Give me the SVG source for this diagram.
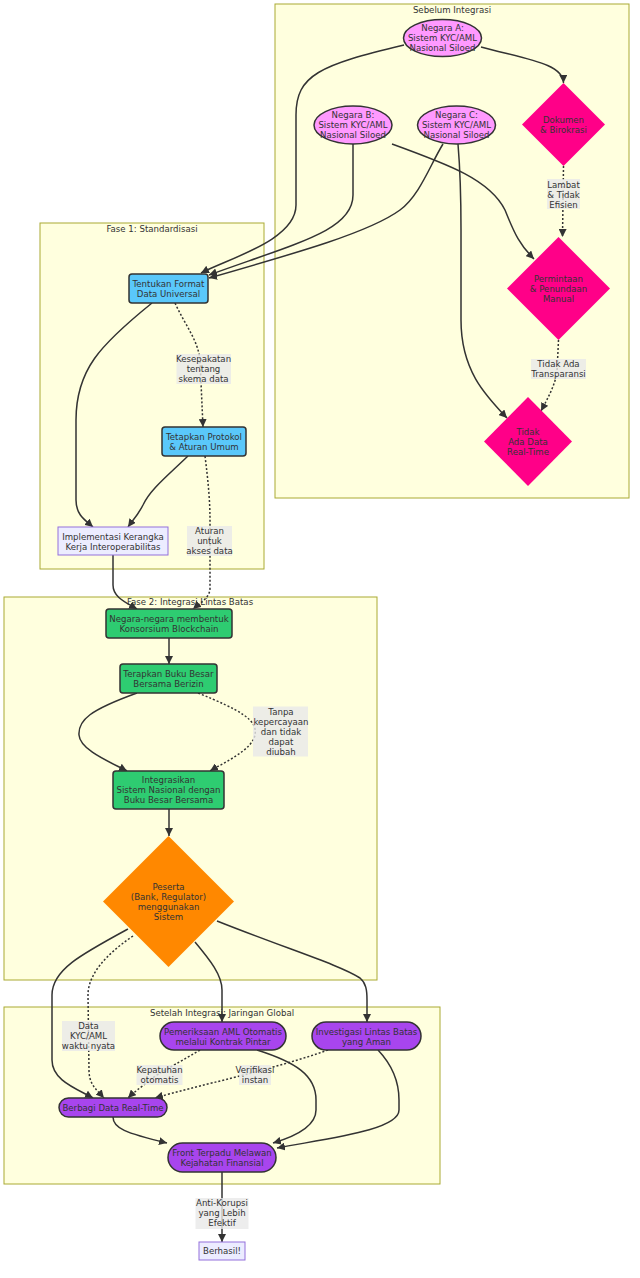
<svg xmlns="http://www.w3.org/2000/svg" width="640" height="1278" viewBox="0 0 640 1278">
<style>
text{font-family:"DejaVu Sans",Verdana,Arial,sans-serif;font-size:8.6px;fill:#333;text-anchor:middle;dominant-baseline:central}
.cl{fill:#ffffde;stroke:#aaaa33;stroke-width:1}
.e{fill:none;stroke:#333;stroke-width:1.5}
.d{fill:none;stroke:#333;stroke-width:1.5;stroke-dasharray:2 2}
.lb{fill:#e8e8e8;opacity:0.8}
.ng{fill:#ff99ff;stroke:#333;stroke-width:1.5}
.pk{fill:#ff0088}
.bl{fill:#5ac8fa;stroke:#333;stroke-width:1.5}
.gr{fill:#2ecc71;stroke:#333;stroke-width:1.5}
.or{fill:#ff8800}
.pu{fill:#a845ee;stroke:#333;stroke-width:1.5}
.df{fill:#ececff;stroke:#9370db;stroke-width:1}
</style>
<defs>
<marker id="ah" viewBox="0 0 10 10" refX="10" refY="5" markerWidth="8" markerHeight="8" markerUnits="userSpaceOnUse" orient="auto">
<path d="M0,0 L10,5 L0,10 z" fill="#333"/>
</marker>
</defs>

<g id="clusters">
<g id="c-sebelum"><rect class="cl" x="275" y="4" width="354" height="494"/><text x="452" y="9.5">Sebelum Integrasi</text></g>
<g id="c-fase1"><rect class="cl" x="40" y="223" width="224" height="346"/><text x="152" y="229">Fase 1: Standardisasi</text></g>
<g id="c-fase2"><rect class="cl" x="4" y="597" width="373" height="383"/><text x="190" y="601.5">Fase 2: Integrasi Lintas Batas</text></g>
<g id="c-setelah"><rect class="cl" x="4" y="1007" width="436" height="177"/><text x="222" y="1013">Setelah Integrasi: Jaringan Global</text></g>
</g>

<g id="edges">
<path class="e" marker-end="url(#ah)" d="M404,45 C320,65 296,75 296,115 L296,205 C296,240 230,258 201,273"/>
<path class="e" marker-end="url(#ah)" d="M481,47 C530,60 563,64 563.5,83"/>
<path class="e" marker-end="url(#ah)" d="M353,144 L353,195 C353,230 300,242 209,275"/>
<path class="e" marker-end="url(#ah)" d="M443,144 C430,165 420,195 400,210 C370,232 300,252 209,278"/>
<path class="e" marker-end="url(#ah)" d="M392,144 C450,165 490,180 505,210 C515,235 520,245 534,259"/>
<path class="e" marker-end="url(#ah)" d="M458,144 C461,180 461,200 461,230 L461,320 C461,370 485,395 507,418"/>
<path class="d" marker-end="url(#ah)" d="M563.5,166 L562.5,237"/>
<path class="d" marker-end="url(#ah)" d="M558.5,340 L557,372 C555,385 548,398 541,411"/>
<path class="d" marker-end="url(#ah)" d="M175,303 C185,325 198,340 200,360 L203,427"/>
<path class="e" marker-end="url(#ah)" d="M152,303 C100,345 76,370 76,420 L76,500 C76,515 85,520 93,527"/>
<path class="e" marker-end="url(#ah)" d="M188,456 C165,478 150,490 143,505 C138,515 133,520 128,527"/>
<path class="e" marker-end="url(#ah)" d="M113,555 L113,585 C113,597 125,602 137,609"/>
<path class="d" marker-end="url(#ah)" d="M205,456 C208,480 210,500 210,520 L210,588 C210,598 200,603 193,609"/>
<path class="e" marker-end="url(#ah)" d="M169,638 L169,664"/>
<path class="e" marker-end="url(#ah)" d="M137,693 C90,710 78,720 79,735 C80,750 110,762 127,771"/>
<path class="d" marker-end="url(#ah)" d="M198,693 C240,710 258,720 255,735 C252,750 225,762 210,771"/>
<path class="e" marker-end="url(#ah)" d="M169,809 L169,836"/>
<path class="e" marker-end="url(#ah)" d="M128,929 C80,955 52,970 52,995 L52,1060 C52,1080 75,1088 93,1098"/>
<path class="d" marker-end="url(#ah)" d="M133,936 C105,955 88,975 88,995 L89,1070 C89,1085 97,1090 104,1098"/>
<path class="e" marker-end="url(#ah)" d="M195,942 C210,960 222,975 222,990 L222,1022"/>
<path class="e" marker-end="url(#ah)" d="M217,921 C290,950 340,965 360,978 C366,983 367,990 367,1000 L367,1022"/>
<path class="d" marker-end="url(#ah)" d="M200,1050 C175,1065 160,1072 150,1080 C140,1088 133,1093 128,1098"/>
<path class="d" marker-end="url(#ah)" d="M328,1050 C300,1060 270,1068 240,1076 C200,1086 175,1092 155,1098"/>
<path class="e" marker-end="url(#ah)" d="M113,1117 C113,1128 125,1133 167,1143"/>
<path class="e" marker-end="url(#ah)" d="M257,1050 C295,1062 316,1075 316,1100 L316,1110 C316,1125 300,1135 273,1143"/>
<path class="e" marker-end="url(#ah)" d="M378,1050 C395,1068 399,1085 399,1100 L399,1110 C399,1130 330,1138 277,1148"/>
<path class="e" marker-end="url(#ah)" d="M222,1172 L222,1242"/>
</g>

<g id="edge-labels">
<g><rect class="lb" x="547" y="179" width="33" height="30"/><text x="563.5" y="184.5">Lambat</text><text x="563.5" y="194.5">&amp; Tidak</text><text x="563.5" y="204.5">Efisien</text></g>
<g><rect class="lb" x="531" y="359" width="55" height="20"/><text x="558.5" y="364">Tidak Ada</text><text x="558.5" y="374">Transparansi</text></g>
<g><rect class="lb" x="176.5" y="354" width="54.5" height="30"/><text x="203.5" y="359">Kesepakatan</text><text x="203.5" y="369">tentang</text><text x="203.5" y="379">skema data</text></g>
<g><rect class="lb" x="187" y="526" width="45" height="30"/><text x="209.5" y="531">Aturan</text><text x="209.5" y="541">untuk</text><text x="209.5" y="551">akses data</text></g>
<g><rect class="lb" x="253" y="706.5" width="55" height="50"/><text x="281" y="711.5">Tanpa</text><text x="281" y="721.5">kepercayaan</text><text x="281" y="731.5">dan tidak</text><text x="281" y="741.5">dapat</text><text x="281" y="751.5">diubah</text></g>
<g><rect class="lb" x="62" y="1021" width="53" height="30"/><text x="88.5" y="1026">Data</text><text x="88.5" y="1036">KYC/AML</text><text x="88.5" y="1046">waktu nyata</text></g>
<g><rect class="lb" x="136.5" y="1065" width="46" height="20"/><text x="159.5" y="1070">Kepatuhan</text><text x="159.5" y="1080">otomatis</text></g>
<g><rect class="lb" x="239" y="1065" width="32" height="20"/><text x="255" y="1070">Verifikasi</text><text x="255" y="1080">instan</text></g>
<g><rect class="lb" x="195.5" y="1198" width="53" height="31"/><text x="222" y="1203">Anti-Korupsi</text><text x="222" y="1213">yang Lebih</text><text x="222" y="1223">Efektif</text></g>
</g>

<g id="nodes">
<g id="negaraA"><ellipse class="ng" cx="442.5" cy="38" rx="39" ry="18.5"/><text x="442.5" y="28">Negara A:</text><text x="442.5" y="38">Sistem KYC/AML</text><text x="442.5" y="48">Nasional Siloed</text></g>
<g id="negaraB"><ellipse class="ng" cx="353" cy="125" rx="39" ry="19"/><text x="353" y="115">Negara B:</text><text x="353" y="125">Sistem KYC/AML</text><text x="353" y="135">Nasional Siloed</text></g>
<g id="negaraC"><ellipse class="ng" cx="456.5" cy="125" rx="39" ry="19"/><text x="456.5" y="115">Negara C:</text><text x="456.5" y="125">Sistem KYC/AML</text><text x="456.5" y="135">Nasional Siloed</text></g>
<g id="dokumen"><polygon class="pk" points="563.5,83 605,124.5 563.5,166 522,124.5"/><text x="563.5" y="119.5">Dokumen</text><text x="563.5" y="129.5">&amp; Birokrasi</text></g>
<g id="permintaan"><polygon class="pk" points="558.5,237 610,288.5 558.5,340 507,288.5"/><text x="558.5" y="278.5">Permintaan</text><text x="558.5" y="288.5">&amp; Penundaan</text><text x="558.5" y="298.5">Manual</text></g>
<g id="tidakData"><polygon class="pk" points="528,397 572,441.5 528,486 484,441.5"/><text x="528" y="431.5">Tidak</text><text x="528" y="441.5">Ada Data</text><text x="528" y="451.5">Real-Time</text></g>

<g id="tentukan"><rect class="bl" x="129" y="274" width="79" height="29" rx="3" ry="3"/><text x="168.5" y="283.5">Tentukan Format</text><text x="168.5" y="293.5">Data Universal</text></g>
<g id="tetapkan"><rect class="bl" x="162" y="427" width="84" height="29" rx="3" ry="3"/><text x="204" y="436.5">Tetapkan Protokol</text><text x="204" y="446.5">&amp; Aturan Umum</text></g>
<g id="implementasi"><rect class="df" x="58" y="527" width="110" height="28"/><text x="113" y="536.5">Implementasi Kerangka</text><text x="113" y="546.5">Kerja Interoperabilitas</text></g>

<g id="konsorsium"><rect class="gr" x="106" y="609" width="126" height="29" rx="3" ry="3"/><text x="169" y="618.5">Negara-negara membentuk</text><text x="169" y="628.5">Konsorsium Blockchain</text></g>
<g id="terapkan"><rect class="gr" x="120" y="664" width="97" height="29" rx="3" ry="3"/><text x="168.5" y="673.5">Terapkan Buku Besar</text><text x="168.5" y="683.5">Bersama Berizin</text></g>
<g id="integrasikan"><rect class="gr" x="113" y="771" width="111" height="38" rx="3" ry="3"/><text x="168.5" y="780">Integrasikan</text><text x="168.5" y="790">Sistem Nasional dengan</text><text x="168.5" y="800">Buku Besar Bersama</text></g>
<g id="peserta"><polygon class="or" points="168.5,836 234,901.5 168.5,967 103,901.5"/><text x="168.5" y="887">Peserta</text><text x="168.5" y="897">(Bank, Regulator)</text><text x="168.5" y="907">menggunakan</text><text x="168.5" y="917">Sistem</text></g>

<g id="pemeriksaan"><rect class="pu" x="160" y="1022" width="126" height="28" rx="14" ry="14"/><text x="223" y="1031.5">Pemeriksaan AML Otomatis</text><text x="223" y="1041.5">melalui Kontrak Pintar</text></g>
<g id="investigasi"><rect class="pu" x="312" y="1022" width="109" height="28" rx="14" ry="14"/><text x="366.5" y="1031.5">Investigasi Lintas Batas</text><text x="366.5" y="1041.5">yang Aman</text></g>
<g id="berbagi"><rect class="pu" x="59" y="1098" width="108" height="19" rx="9.5" ry="9.5"/><text x="113" y="1107.5">Berbagi Data Real-Time</text></g>
<g id="front"><rect class="pu" x="168" y="1143" width="108" height="29" rx="14.5" ry="14.5"/><text x="222" y="1152.5">Front Terpadu Melawan</text><text x="222" y="1162.5">Kejahatan Finansial</text></g>
<g id="berhasil"><rect class="df" x="199" y="1242" width="46" height="18"/><text x="222" y="1251">Berhasil!</text></g>
</g>
</svg>
